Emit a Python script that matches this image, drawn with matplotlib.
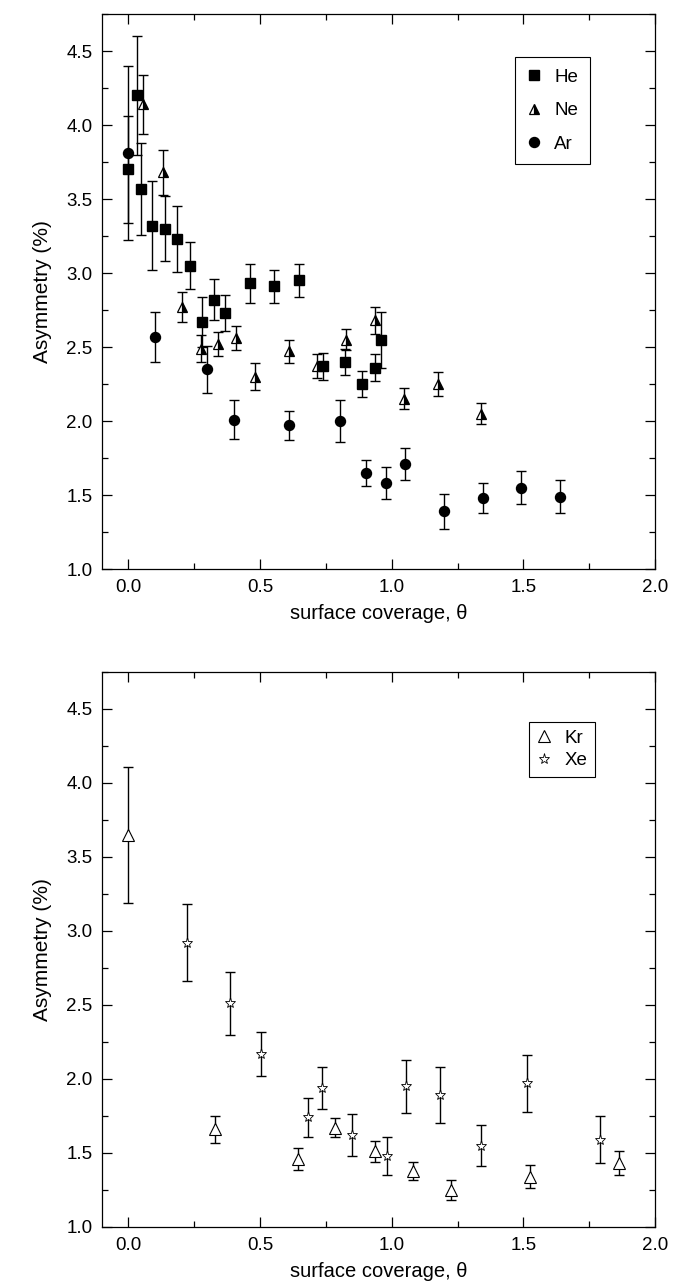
import numpy as np
import matplotlib
matplotlib.use('Agg')
import matplotlib.pyplot as plt
from matplotlib.ticker import MultipleLocator

plt.rcParams['font.family'] = ['Liberation Sans', 'DejaVu Sans']

# top panel: He, Ne, Ar  (coverage, asymmetry %, error)
he_x = [0.0, 0.032, 0.048, 0.09, 0.139, 0.183, 0.234, 0.278, 0.324, 0.367,
        0.463, 0.553, 0.648, 0.741, 0.821, 0.888, 0.938, 0.96]
he_y = [3.70, 4.20, 3.57, 3.32, 3.30, 3.23, 3.05, 2.67, 2.82, 2.73,
        2.93, 2.91, 2.95, 2.37, 2.40, 2.25, 2.36, 2.55]
he_e = [0.36, 0.40, 0.31, 0.30, 0.22, 0.22, 0.16, 0.17, 0.14, 0.12,
        0.13, 0.11, 0.11, 0.09, 0.09, 0.09, 0.09, 0.19]

ne_x = [0.057, 0.133, 0.202, 0.275, 0.342, 0.41, 0.482, 0.61, 0.717,
        0.826, 0.938, 1.048, 1.174, 1.34]
ne_y = [4.14, 3.68, 2.77, 2.49, 2.52, 2.56, 2.30, 2.47, 2.37,
        2.55, 2.68, 2.15, 2.25, 2.05]
ne_e = [0.20, 0.15, 0.10, 0.09, 0.08, 0.08, 0.09, 0.08, 0.08,
        0.07, 0.09, 0.07, 0.08, 0.07]

ar_x = [0.0, 0.102, 0.30, 0.402, 0.609, 0.804, 0.904, 0.977, 1.05,
        1.198, 1.345, 1.49, 1.64]
ar_y = [3.81, 2.57, 2.35, 2.01, 1.97, 2.00, 1.65, 1.58, 1.71,
        1.39, 1.48, 1.55, 1.49]
ar_e = [0.59, 0.17, 0.16, 0.13, 0.10, 0.14, 0.09, 0.11, 0.11,
        0.12, 0.10, 0.11, 0.11]

# bottom panel: Kr, Xe
kr_x = [0.0, 0.329, 0.645, 0.784, 0.938, 1.08, 1.225, 1.524, 1.863]
kr_y = [3.65, 1.66, 1.46, 1.67, 1.51, 1.38, 1.25, 1.34, 1.43]
kr_e = [0.46, 0.09, 0.075, 0.065, 0.07, 0.06, 0.065, 0.08, 0.08]

xe_x = [0.222, 0.386, 0.505, 0.681, 0.734, 0.848, 0.982, 1.054, 1.182,
        1.34, 1.514, 1.792]
xe_y = [2.92, 2.51, 2.17, 1.74, 1.94, 1.62, 1.48, 1.95, 1.89,
        1.55, 1.97, 1.59]
xe_e = [0.26, 0.21, 0.15, 0.13, 0.14, 0.14, 0.13, 0.18, 0.19,
        0.14, 0.19, 0.16]

fig = plt.figure(figsize=(6.73, 12.86), dpi=100)
ax1 = fig.add_axes([0.1516, 0.5575, 0.8217, 0.4316])
ax2 = fig.add_axes([0.1516, 0.0459, 0.8217, 0.4316])

eb = dict(fmt='none', ecolor='black', elinewidth=1.0, capsize=3.3, capthick=1.0, zorder=2)

def series(ax, x, y, e, label, **mk):
    ax.errorbar(x, y, yerr=e, **eb)
    ax.plot(x, y, ls='none', label=label, zorder=3, **mk)

series(ax1, he_x, he_y, he_e, 'He', marker='s', ms=6.8, color='black')
series(ax1, ne_x, ne_y, ne_e, 'Ne', marker='^', ms=7.5, color='black',
       mfc='black', mfcalt='white', fillstyle='right', mew=0.9)
series(ax1, ar_x, ar_y, ar_e, 'Ar', marker='o', ms=7.2, color='black')

series(ax2, kr_x, kr_y, kr_e, 'Kr', marker='^', ms=8, color='black',
       mfc='white', mew=0.8)
series(ax2, xe_x, xe_y, xe_e, 'Xe', marker='*', ms=8, color='black',
       mfc='white', mew=0.6)

for ax in (ax1, ax2):
    ax.set_xlim(-0.1, 2.0)
    ax.set_ylim(1.0, 4.75)
    ax.xaxis.set_major_locator(MultipleLocator(0.5))
    ax.xaxis.set_minor_locator(MultipleLocator(0.25))
    ax.yaxis.set_major_locator(MultipleLocator(0.5))
    ax.yaxis.set_minor_locator(MultipleLocator(0.25))
    ax.xaxis.set_major_formatter(plt.FormatStrFormatter('%.1f'))
    ax.yaxis.set_major_formatter(plt.FormatStrFormatter('%.1f'))
    ax.tick_params(which='both', direction='in', top=True, right=True,
                   width=0.9, labelsize=13.5, pad=7)
    ax.tick_params(which='major', length=7)
    ax.tick_params(which='minor', length=4)
    for s in ax.spines.values():
        s.set_linewidth(0.9)
    ax.set_xlabel('surface coverage, \u03b8', fontsize=14.5, labelpad=6)
    ax.set_ylabel('Asymmetry (%)', fontsize=15, labelpad=10,
                  family=['Liberation Sans Narrow', 'Liberation Sans', 'DejaVu Sans'])

leg1 = ax1.legend(loc='upper right', bbox_to_anchor=(0.882, 0.9225),
                  fontsize=13.5, handlelength=0.8, handletextpad=0.7,
                  borderaxespad=0, fancybox=False, edgecolor='black',
                  framealpha=1, labelspacing=0.87, borderpad=0.62)
leg1.get_frame().set_linewidth(0.8)
leg2 = ax2.legend(loc='upper right', bbox_to_anchor=(0.891, 0.91),
                  fontsize=13.5, handlelength=0.8, handletextpad=0.7,
                  borderaxespad=0, fancybox=False, edgecolor='black',
                  framealpha=1, labelspacing=0.3, borderpad=0.4)
leg2.get_frame().set_linewidth(0.8)

fig.savefig('out.png', dpi=100)
